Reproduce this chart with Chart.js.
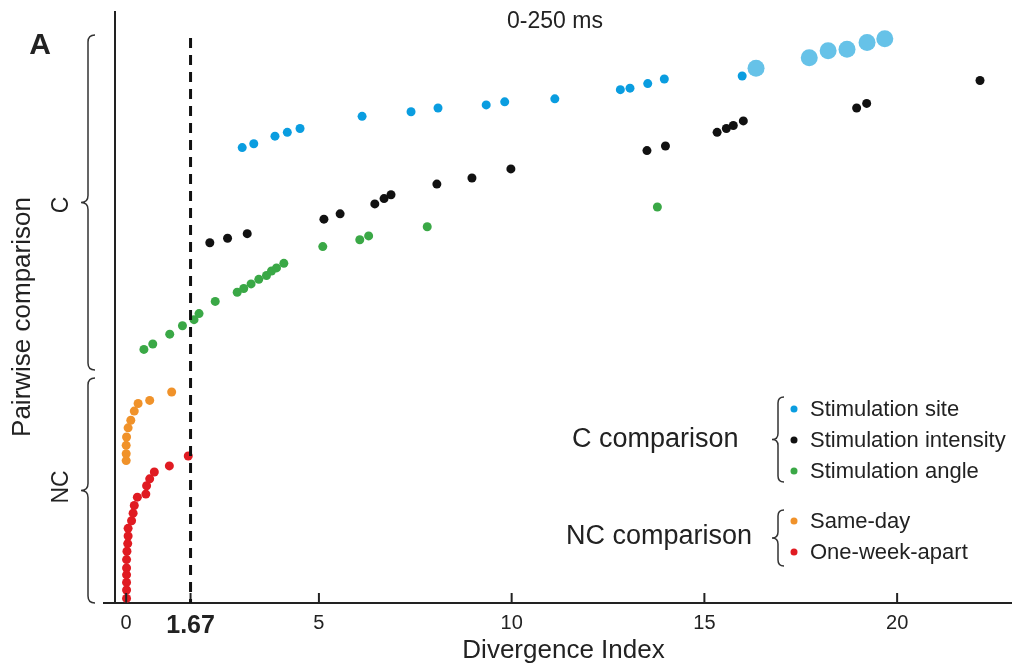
<!DOCTYPE html>
<html>
<head>
<meta charset="utf-8">
<script src="https://cdn.jsdelivr.net/npm/chart.js@4.4.1/dist/chart.umd.min.js"></script>
<style>
  body { margin: 0; background: #fff; }
  #wrap { width: 1012px; height: 669px; }
</style>
</head>
<body>
<div id="wrap"><canvas id="divChart" width="1012" height="669"></canvas></div>
<script>
// values (x = divergence index, y = comparison rank)
var redX = [0.01, 0.01, 0.01, 0.01, 0.01, 0.01, 0.02, 0.04, 0.05, 0.05, 0.14, 0.18, 0.21, 0.29, 0.51, 0.53, 0.61, 0.73, 1.12, 1.61];
var redY = [0.6, 1.7, 2.7, 3.7, 4.6, 5.7, 6.8, 7.8, 8.8, 9.8, 10.8, 11.8, 12.8, 13.9, 14.3, 15.4, 16.3, 17.2, 18.0, 19.3];

var orangeX = [0.0, 0.0, 0.0, 0.01, 0.05, 0.12, 0.21, 0.31, 0.61, 1.18];
var orangeY = [18.7, 19.6, 20.7, 21.8, 23.0, 24.0, 25.2, 26.2, 26.6, 27.7];

var greenX = [0.46, 0.69, 1.13, 1.46, 1.76, 1.89, 2.31, 2.88, 3.05, 3.24, 3.44, 3.64, 3.77, 3.90, 4.09, 5.10, 6.06, 6.29, 7.81, 13.78];
var greenY = [33.3, 34.0, 35.3, 36.4, 37.2, 38.0, 39.6, 40.8, 41.3, 41.9, 42.5, 43.0, 43.6, 44.0, 44.6, 46.8, 47.7, 48.2, 49.4, 52.0];

var blackX = [2.17, 2.63, 3.14, 5.13, 5.55, 6.45, 6.69, 6.87, 8.06, 8.97, 9.98, 13.51, 13.99, 15.33, 15.57, 15.75, 16.01, 18.95, 19.21, 22.15];
var blackY = [47.3, 47.9, 48.5, 50.4, 51.1, 52.4, 53.1, 53.6, 55.0, 55.8, 57.0, 59.4, 60.0, 61.8, 62.3, 62.7, 63.3, 65.0, 65.6, 68.6];

var blueX = [3.01, 3.31, 3.86, 4.18, 4.51, 6.12, 7.39, 8.09, 9.34, 9.82, 11.12, 12.82, 13.07, 13.53, 13.96, 15.98];
var blueY = [59.8, 60.3, 61.3, 61.8, 62.3, 63.9, 64.5, 65.0, 65.4, 65.8, 66.2, 67.4, 67.6, 68.2, 68.8, 69.2];

var bigBlueX = [16.34, 17.72, 18.21, 18.70, 19.22, 19.68];
var bigBlueY = [70.2, 71.6, 72.5, 72.7, 73.6, 74.1];

var xTicks = [0, 1.67, 5, 10, 15, 20];
var threshold = 1.67;

var FONT = '"Liberation Sans", Arial, sans-serif';
Chart.defaults.font.family = FONT;

function pts(xs, ys) {
    return xs.map(function (x, i) { return { x: x, y: ys[i] }; });
}

function brace(ctx, x, y1, y2, w) {
    var ym = (y1 + y2) / 2;
    ctx.beginPath();
    ctx.moveTo(x + w, y1);
    ctx.quadraticCurveTo(x, y1, x, y1 + w);
    ctx.lineTo(x, ym - w);
    ctx.quadraticCurveTo(x, ym, x - w, ym);
    ctx.quadraticCurveTo(x, ym, x, ym + w);
    ctx.lineTo(x, y2 - w);
    ctx.quadraticCurveTo(x, y2, x + w, y2);
    ctx.stroke();
}

var extras = {
    id: 'extras',
    afterDraw: function (chart) {
        var ctx = chart.ctx;
        var xs = chart.scales.x, ys = chart.scales.y;
        var area = chart.chartArea;
        ctx.save();

        // x axis stub left of the y axis, and inward tick marks
        ctx.strokeStyle = '#222';
        ctx.lineWidth = 2;
        ctx.beginPath();
        ctx.moveTo(103, area.bottom);
        ctx.lineTo(area.left, area.bottom);
        ctx.stroke();
        xTicks.forEach(function (v) {
            var px = xs.getPixelForValue(v);
            ctx.beginPath();
            ctx.moveTo(px, area.bottom);
            ctx.lineTo(px, area.bottom - 10);
            ctx.stroke();
        });

        // threshold line
        var tx = xs.getPixelForValue(threshold);
        ctx.strokeStyle = '#111';
        ctx.lineWidth = 3;
        ctx.setLineDash([10, 7]);
        ctx.beginPath();
        ctx.moveTo(tx, ys.getPixelForValue(74.2));
        ctx.lineTo(tx, area.bottom);
        ctx.stroke();
        ctx.setLineDash([]);

        // titles
        ctx.fillStyle = '#222';
        ctx.textAlign = 'center';
        ctx.textBaseline = 'middle';
        ctx.font = '23px ' + FONT;
        ctx.fillText('0-250 ms', 555, 22);
        ctx.font = 'bold 30px ' + FONT;
        ctx.fillText('A', 40, 46);

        // y title and group labels
        ctx.save();
        ctx.translate(23, 317);
        ctx.rotate(-Math.PI / 2);
        ctx.font = '26px ' + FONT;
        ctx.fillText('Pairwise comparison', 0, 0);
        ctx.restore();
        ctx.font = '23px ' + FONT;
        ctx.save();
        ctx.translate(62, 205);
        ctx.rotate(-Math.PI / 2);
        ctx.fillText('C', 0, 0);
        ctx.restore();
        ctx.save();
        ctx.translate(62, 487);
        ctx.rotate(-Math.PI / 2);
        ctx.fillText('NC', 0, 0);
        ctx.restore();

        ctx.strokeStyle = '#333';
        ctx.lineWidth = 1.5;
        brace(ctx, 88, 35, 370, 7);
        brace(ctx, 88, 378, 603, 7);

        // legend
        ctx.textAlign = 'left';
        ctx.font = '27px ' + FONT;
        ctx.fillText('C comparison', 572, 440);
        ctx.fillText('NC comparison', 566, 537);
        brace(ctx, 778, 397, 482, 6);
        brace(ctx, 778, 510, 566, 6);
        var items = [
            ['Stimulation site', '#0a9de0', 410],
            ['Stimulation intensity', '#111111', 441],
            ['Stimulation angle', '#3aa846', 472],
            ['Same-day', '#f0922a', 522],
            ['One-week-apart', '#e01b22', 553]
        ];
        ctx.font = '22px ' + FONT;
        items.forEach(function (it) {
            ctx.fillStyle = it[1];
            ctx.beginPath();
            ctx.arc(794, it[2] - 1, 3.5, 0, Math.PI * 2);
            ctx.fill();
            ctx.fillStyle = '#222';
            ctx.fillText(it[0], 810, it[2]);
        });
        ctx.restore();
    }
};

var chart = new Chart(document.getElementById('divChart'), {
    type: 'scatter',
    data: {
        datasets: [
            { label: 'One-week-apart', data: pts(redX, redY), backgroundColor: '#e01b22' },
            { label: 'Same-day', data: pts(orangeX, orangeY), backgroundColor: '#f0922a' },
            { label: 'Stimulation angle', data: pts(greenX, greenY), backgroundColor: '#3aa846' },
            { label: 'Stimulation intensity', data: pts(blackX, blackY), backgroundColor: '#111111' },
            { label: 'Stimulation site', data: pts(blueX, blueY), backgroundColor: '#0a9de0' },
            { label: 'Stimulation site (large)', data: pts(bigBlueX, bigBlueY), backgroundColor: '#66c2e8', pointRadius: 8.5 }
        ]
    },
    options: {
        responsive: false,
        animation: false,
        layout: { autoPadding: false, padding: { top: 12, right: 0, bottom: 0, left: 0 } },
        elements: { point: { radius: 4.5, borderWidth: 0, hoverRadius: 4.5 } },
        datasets: { scatter: { clip: false } },
        plugins: { legend: { display: false }, tooltip: { enabled: false } },
        scales: {
            x: {
                type: 'linear',
                min: -0.29,
                max: 22.98,
                afterFit: function (s) { s.height = 66; },
                afterBuildTicks: function (s) {
                    s.ticks = xTicks.map(function (v) { return { value: v }; });
                },
                grid: { display: false },
                border: { display: true, color: '#222', width: 2 },
                ticks: {
                    padding: 0,
                    color: '#222',
                    callback: function (v) { return String(v); },
                    font: function (c) {
                        return c.tick && c.tick.value === threshold
                            ? { size: 25, weight: 'bold' }
                            : { size: 20 };
                    }
                },
                title: {
                    display: true,
                    text: 'Divergence Index',
                    color: '#222',
                    font: { size: 26 },
                    padding: { top: 0, bottom: 3 }
                }
            },
            y: {
                type: 'linear',
                min: 0,
                max: 77.6,
                afterFit: function (s) { s.width = 115; },
                grid: { display: false },
                border: { display: true, color: '#222', width: 2 },
                ticks: { display: false }
            }
        }
    },
    plugins: [extras]
});
</script>
</body>
</html>
